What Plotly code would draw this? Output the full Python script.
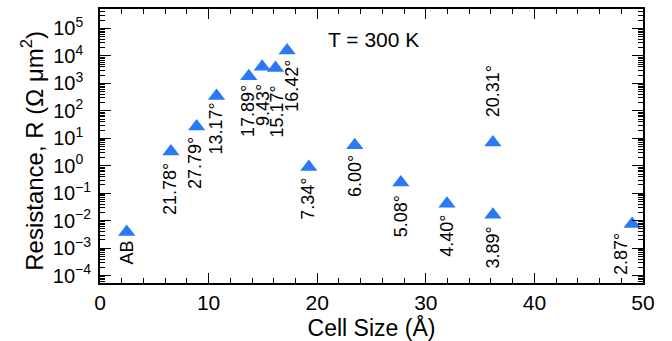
import math
import plotly.graph_objects as go

# Data
cell_size = [2.46, 6.53, 8.9, 10.73, 13.7, 14.93, 16.16, 17.23, 19.23, 23.46, 27.7, 31.95, 36.18, 36.18, 49.0]
resistance = [0.0039, 3.3, 27, 345, 1820, 4000, 3650, 15700, 0.91, 5.6, 0.245, 0.041, 0.0166, 7.1, 0.0076]
angle_labels = ["AB", "21.78°", "27.79°", "13.17°", "17.89°", "9.43°", "15.17°", "16.42°",
                "7.34°", "6.00°", "5.08°", "4.40°", "3.89°", "20.31°", "2.87°"]

# tick labels (positive exponents padded so all labels are left-aligned like the reference)
NB = "\u00a0\u00a0"
y_tickvals = [1e-4, 1e-3, 1e-2, 1e-1, 1e0, 1e1, 1e2, 1e3, 1e4, 1e5]
y_ticktext = ["10<sup>−4</sup>", "10<sup>−3</sup>", "10<sup>−2</sup>", "10<sup>−1</sup>",
              "10<sup>0" + NB + "</sup>", "10<sup>1" + NB + "</sup>", "10<sup>2" + NB + "</sup>",
              "10<sup>3" + NB + "</sup>", "10<sup>4" + NB + "</sup>", "10<sup>5" + NB + "</sup>"]

# label offsets (pixels) relative to each point
label_dx = [0, -1.5, -1, 0, -1, 1, 1, 4, -1, 0, 0, 0, 0, 0, -11]
label_dy = [-21, -37, -37, -33, -35, -38, -44, -35, -32, -31, -34, -32, -33, 51, -30]

FONT = "Liberation Sans, Arial, Helvetica, sans-serif"
BLUE = "#2979f7"

fig = go.Figure()
fig.add_trace(go.Scatter(
    x=cell_size, y=resistance, mode="markers",
    marker=dict(symbol="triangle-up", size=15, color=BLUE, line=dict(width=0)),
    showlegend=False, hoverinfo="x+y",
))

for xv, yv, lab, dx, dy in zip(cell_size, resistance, angle_labels, label_dx, label_dy):
    fig.add_annotation(
        x=xv, y=math.log10(yv), xref="x", yref="y",
        text=lab, textangle=-90, showarrow=False,
        xanchor="center", yanchor="middle",
        xshift=dx, yshift=dy,
        font=dict(family=FONT, size=18, color="black"),
    )

fig.add_annotation(
    x=0.503, y=0.887, xref="paper", yref="paper",
    text="T = 300 K", showarrow=False, xanchor="center", yanchor="middle",
    font=dict(family=FONT, size=21, color="black"),
)

# y-axis title drawn as a rotated annotation so it can sit where the reference has it
fig.add_annotation(
    x=-0.125, y=0.483, xref="paper", yref="paper",
    text="Resistance, R (Ω μm<sup>2</sup>)", textangle=-90, showarrow=False,
    xanchor="center", yanchor="middle",
    font=dict(family=FONT, size=24, color="black"),
)

fig.update_layout(
    width=672, height=341,
    margin=dict(l=100, r=29, t=7, b=58),
    paper_bgcolor="white", plot_bgcolor="white",
    font=dict(family=FONT, color="black"),
    xaxis=dict(
        range=[0, 50], dtick=10, tick0=0,
        showline=True, linewidth=2, linecolor="black", mirror="allticks",
        ticks="inside", ticklen=10, tickwidth=1, tickcolor="black",
        minor=dict(dtick=2, ticks="inside", ticklen=5, tickwidth=1, tickcolor="black", showgrid=False),
        showgrid=False, zeroline=False,
        tickfont=dict(family=FONT, size=21),
        title=dict(text="Cell Size (Å)", font=dict(family=FONT, size=23), standoff=3),
    ),
    yaxis=dict(
        type="log", range=[-4.27, 5.71],
        tickmode="array", tickvals=y_tickvals, ticktext=y_ticktext,
        showline=True, linewidth=2, linecolor="black", mirror="allticks",
        ticks="inside", ticklen=11, tickwidth=1, tickcolor="black",
        minor=dict(dtick="D1", ticks="inside", ticklen=5, tickwidth=1, tickcolor="black", showgrid=False),
        showgrid=False, zeroline=False,
        tickfont=dict(family=FONT, size=20),
        ticklabelstandoff=3,
    ),
)

fig.write_html("out.html")
